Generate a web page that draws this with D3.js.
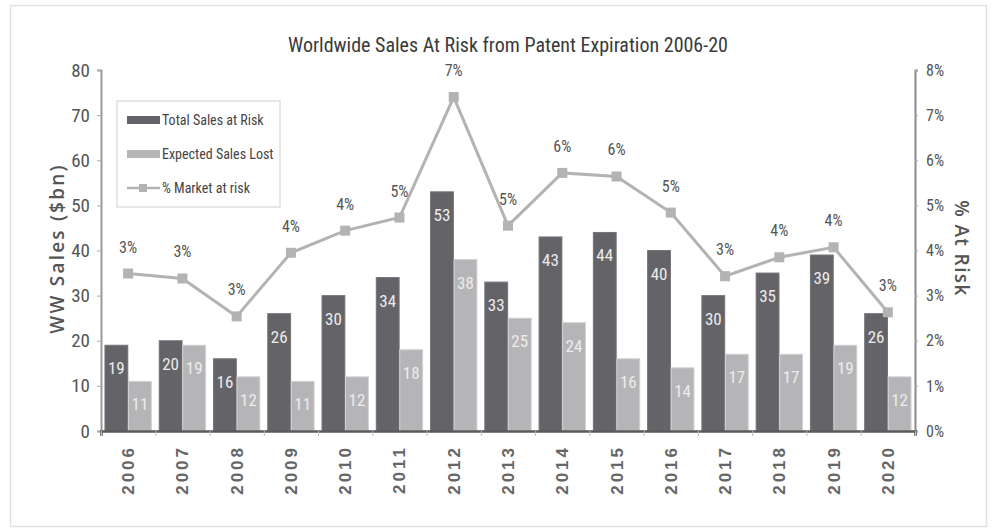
<!DOCTYPE html>
<html>
<head>
<meta charset="utf-8">
<script src="https://cdn.jsdelivr.net/npm/d3@7"></script>
<style>
    body { margin: 0; background: #fff; }
    svg { display: block; }
    .narrow { font-family: "Roboto Condensed", "DejaVu Sans Condensed", sans-serif; }
</style>
</head>
<body>
<svg id="chart" width="997" height="529"></svg>
<script>
const years = ['2006', '2007', '2008', '2009', '2010', '2011', '2012', '2013', '2014', '2015', '2016', '2017', '2018', '2019', '2020'];
const totalSales = [19, 20, 16, 26, 30, 34, 53, 33, 43, 44, 40, 30, 35, 39, 26];
const salesLost = [11, 19, 12, 11, 12, 18, 38, 25, 24, 16, 14, 17, 17, 19, 12];
const pctAtRisk = [3.49, 3.38, 2.54, 3.95, 4.44, 4.73, 7.40, 4.55, 5.72, 5.64, 4.84, 3.43, 3.85, 4.07, 2.63];
const leftTicks = [0, 10, 20, 30, 40, 50, 60, 70, 80];
const rightTicks = [0, 1, 2, 3, 4, 5, 6, 7, 8];
const seriesNames = ['Total Sales at Risk', 'Expected Sales Lost', '% Market at risk'];

const darkColor = '#646468';
const lightColor = '#b5b5b7';
const lineColor = '#b3b3b3';
const textColor = '#555';

const svg = d3.select('#chart');
const margin = { top: 70, right: 82, bottom: 98, left: 101 };
const width = 997 - margin.left - margin.right;
const height = 529 - margin.top - margin.bottom;

// outer frame
svg.append('rect')
    .attr('x', 10.5).attr('y', 5.5)
    .attr('width', 976).attr('height', 521)
    .attr('fill', '#fff')
    .attr('stroke', '#e2e2e2')
    .attr('stroke-width', 1.5);

svg.append('text')
    .attr('class', 'narrow')
    .attr('x', 508).attr('y', 52)
    .attr('text-anchor', 'middle')
    .attr('font-size', 20)
    .attr('fill', '#3a3a3a')
    .text('Worldwide Sales At Risk from Patent Expiration 2006-20');

const g = svg.append('g').attr('transform', `translate(${margin.left},${margin.top})`);

const x = d3.scaleBand().domain(years).range([0, width]).paddingInner(0.12).paddingOuter(0.06);
const xSub = d3.scaleBand().domain(['total', 'lost']).range([0, x.bandwidth()]).padding(0.03);
const y = d3.scaleLinear().domain([0, 80]).range([height, 0]);
const yPct = d3.scaleLinear().domain([0, 8]).range([height, 0]);
const xEdge = d3.scaleLinear().domain([0, years.length]).range([0, width]);

// bars
const groups = g.selectAll('.year')
    .data(years)
    .join('g')
    .attr('class', 'year')
    .attr('transform', d => `translate(${x(d)},0)`);

const barData = (d, i) => [
    { key: 'total', value: totalSales[i], color: darkColor },
    { key: 'lost', value: salesLost[i], color: lightColor },
];

groups.selectAll('rect')
    .data(barData)
    .join('rect')
    .attr('x', d => xSub(d.key))
    .attr('y', d => y(d.value))
    .attr('width', xSub.bandwidth())
    .attr('height', d => height - y(d.value))
    .attr('fill', d => d.color)
    .attr('stroke', d => d3.color(d.color).brighter(0.4))
    .attr('stroke-width', 1);

groups.selectAll('.val')
    .data(barData)
    .join('text')
    .attr('class', 'val narrow')
    .attr('x', d => xSub(d.key) + xSub.bandwidth() / 2)
    .attr('y', d => y(d.value) + 29)
    .attr('text-anchor', 'middle')
    .attr('font-size', 17)
    .attr('fill', '#ececec')
    .text(d => d.value);

// axes
const leftAxis = g.append('g')
    .call(d3.axisLeft(y).tickValues(leftTicks).tickSize(4).tickPadding(7));
leftAxis.select('.domain').attr('stroke', '#9a9a9a').attr('stroke-width', 2);
leftAxis.selectAll('.tick line').attr('stroke', '#aaa');
leftAxis.selectAll('text')
    .attr('class', 'narrow')
    .attr('font-size', 19)
    .attr('fill', textColor);

const rightAxis = g.append('g')
    .attr('transform', `translate(${width},0)`)
    .call(d3.axisRight(yPct).tickValues(rightTicks).tickSize(3).tickPadding(8).tickFormat(d => `${d}%`));
rightAxis.select('.domain').attr('stroke', '#8a8a8a').attr('stroke-width', 2);
rightAxis.selectAll('.tick line').attr('stroke', '#aaa');
rightAxis.selectAll('text')
    .attr('class', 'narrow')
    .attr('font-size', 16)
    .attr('fill', textColor);

const bottomAxis = g.append('g')
    .attr('transform', `translate(0,${height})`)
    .call(d3.axisBottom(xEdge).ticks(years.length).tickSize(5).tickFormat(''));
bottomAxis.select('.domain').attr('stroke', '#5a5a5a').attr('stroke-width', 2.5);
bottomAxis.selectAll('.tick line').attr('stroke', '#bbb');

g.append('g')
    .selectAll('text')
    .data(years)
    .join('text')
    .attr('transform', d => `translate(${x(d) + x.bandwidth() / 2 + 6},${height + 14}) rotate(-90)`)
    .attr('text-anchor', 'end')
    .attr('font-family', 'Liberation Sans, Arial, sans-serif')
    .attr('font-weight', 'bold')
    .attr('font-size', 17)
    .attr('letter-spacing', 3)
    .attr('fill', '#666')
    .text(d => d);

// axis titles
svg.append('text')
    .attr('transform', `translate(64,${margin.top + height / 2 - 2}) rotate(-90)`)
    .attr('text-anchor', 'middle')
    .attr('font-family', 'Open Sans, sans-serif')
    .attr('font-weight', 600)
    .attr('font-size', 19)
    .attr('letter-spacing', 2.2)
    .attr('fill', textColor)
    .text('WW Sales ($bn)');

svg.append('text')
    .attr('transform', `translate(955,${margin.top + height / 2 - 2}) rotate(90)`)
    .attr('text-anchor', 'middle')
    .attr('font-family', 'Open Sans, sans-serif')
    .attr('font-weight', 600)
    .attr('font-size', 19)
    .attr('letter-spacing', 1.4)
    .attr('fill', textColor)
    .text('% At Risk');

// % line
const cx = (d, i) => x(years[i]) + x.bandwidth() / 2;
const line = d3.line()
    .x((d, i) => cx(d, i))
    .y(d => yPct(d));

g.append('path')
    .datum(pctAtRisk)
    .attr('fill', 'none')
    .attr('stroke', lineColor)
    .attr('stroke-width', 3)
    .attr('d', line);

g.selectAll('.marker')
    .data(pctAtRisk)
    .join('rect')
    .attr('class', 'marker')
    .attr('x', (d, i) => cx(d, i) - 5)
    .attr('y', d => yPct(d) - 5)
    .attr('width', 10)
    .attr('height', 10)
    .attr('fill', lineColor);

g.selectAll('.pct')
    .data(pctAtRisk)
    .join('text')
    .attr('class', 'pct narrow')
    .attr('x', (d, i) => cx(d, i))
    .attr('y', d => yPct(d) - 21)
    .attr('text-anchor', 'middle')
    .attr('font-size', 16)
    .attr('fill', textColor)
    .text(d => `${Math.round(d)}%`);

// legend
const legend = svg.append('g').attr('transform', 'translate(117,101)');
legend.append('rect')
    .attr('width', 163).attr('height', 106)
    .attr('fill', '#fff')
    .attr('stroke', '#cfcfcf');

const items = legend.selectAll('.item')
    .data(seriesNames)
    .join('g')
    .attr('class', 'item')
    .attr('transform', (d, i) => `translate(10,${19 + i * 34})`);

items.filter((d, i) => i < 2).append('rect')
    .attr('x', 0).attr('y', -4)
    .attr('width', 33).attr('height', 8)
    .attr('fill', (d, i) => (i === 0 ? darkColor : lightColor));

const lineItem = items.filter((d, i) => i === 2);
lineItem.append('line')
    .attr('x1', 0).attr('x2', 33)
    .attr('stroke', lineColor).attr('stroke-width', 2.5);
lineItem.append('rect')
    .attr('x', 12).attr('y', -4)
    .attr('width', 8).attr('height', 8)
    .attr('fill', lineColor);

items.append('text')
    .attr('class', 'narrow')
    .attr('x', 35)
    .attr('dy', '0.35em')
    .attr('font-size', 14)
    .attr('fill', '#444')
    .text(d => d);
</script>
</body>
</html>
